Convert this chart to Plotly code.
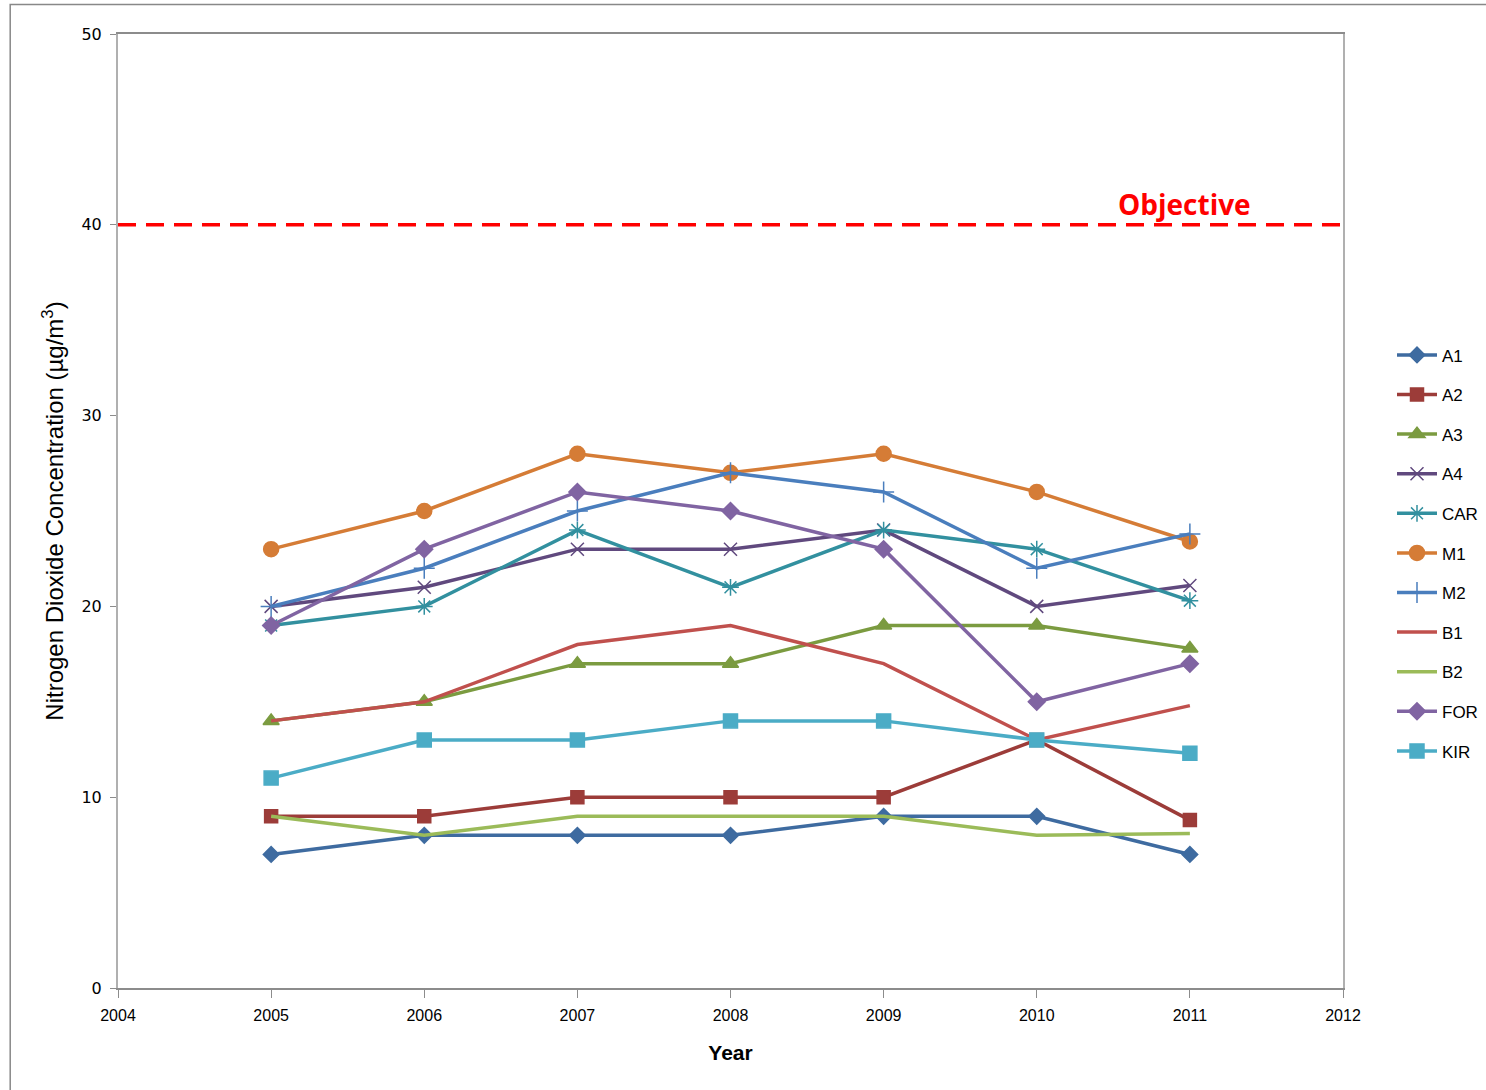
import plotly.graph_objects as go

years = [2005, 2006, 2007, 2008, 2009, 2010, 2011]
A1 = [7, 8, 8, 8, 9, 9, 7]
A2 = [9, 9, 10, 10, 10, 13, 8.8]
A3 = [14, 15, 17, 17, 19, 19, 17.8]
A4 = [20, 21, 23, 23, 24, 20, 21.1]
CAR = [19, 20, 24, 21, 24, 23, 20.3]
M1 = [23, 25, 28, 27, 28, 26, 23.4]
M2 = [20, 22, 25, 27, 26, 22, 23.8]
B1 = [14, 15, 18, 19, 17, 13, 14.8]
B2 = [9, 8, 9, 9, 9, 8, 8.1]
FOR = [19, 23, 26, 25, 23, 15, 17]
KIR = [11, 13, 13, 14, 14, 13, 12.3]
objective = 40
x_ticks = [2004, 2005, 2006, 2007, 2008, 2009, 2010, 2011, 2012]
y_ticks = [0, 10, 20, 30, 40, 50]

series = [
    ("A1", A1, "#3E6BA0", "diamond", 12),
    ("A2", A2, "#9C3C39", "square", 13),
    ("A3", A3, "#7B9B40", "triangle-up", 14),
    ("A4", A4, "#60497E", "x-thin", 13),
    ("CAR", CAR, "#32909F", "asterisk", 14),
    ("M1", M1, "#D57C36", "circle", 15),
    ("M2", M2, "#4A7EBD", "cross-thin", 15),
    ("B1", B1, "#C0504D", None, 0),
    ("B2", B2, "#9BBB59", None, 0),
    ("FOR", FOR, "#8064A2", "diamond", 13),
    ("KIR", KIR, "#4BACC6", "square", 14),
]

fig = go.Figure()
for name, vals, color, sym, size in series:
    if sym is None:
        fig.add_trace(go.Scatter(x=years, y=vals, name=name, mode="lines",
                                 line=dict(color=color, width=3.5), legendgroup=name))
    else:
        fig.add_trace(go.Scatter(x=years, y=vals, name=name, mode="lines+markers",
                                 line=dict(color=color, width=3.5),
                                 marker=dict(symbol=sym, size=size, color=color,
                                             line=dict(color=color, width=1.5)),
                                 legendgroup=name))

fig.add_shape(type="line", xref="paper", yref="y", x0=0, x1=1, y0=objective, y1=objective,
              line=dict(color="#FF0000", width=3.5, dash="18px,10px"))
fig.add_annotation(x=0.871, xref="paper", xanchor="center", y=objective, yref="y",
                   text="<b>Objective</b>", showarrow=False, yanchor="bottom", yshift=0,
                   font=dict(color="#FF0000", size=28, family="Open Sans"))

# outer chart frame
fig.add_shape(type="rect", xref="paper", yref="paper", x0=-0.088, x1=1.2, y0=-0.2, y1=1.031,
              line=dict(color="#888888", width=1.5), fillcolor="rgba(0,0,0,0)", layer="below")

fig.update_layout(
    width=1486, height=1090,
    margin=dict(l=118, r=143, t=34, b=102, autoexpand=False),
    paper_bgcolor="white", plot_bgcolor="white",
    font=dict(family="Liberation Sans", color="black"),
    showlegend=True,
    legend=dict(x=1.04, y=0.682, xanchor="left", yanchor="top",
                font=dict(size=17, family="Liberation Sans"),
                tracegroupgap=14.5, traceorder="grouped", itemwidth=40,
                bgcolor="rgba(0,0,0,0)"),
    xaxis=dict(range=[2004, 2012], tickvals=x_ticks, ticktext=[str(t) for t in x_ticks],
               showgrid=False, zeroline=False, showline=True, linecolor="#8C8C8C", linewidth=1.5,
               mirror=True, ticks="outside", ticklen=8, tickcolor="#8C8C8C",
               ticklabelstandoff=4,
               tickfont=dict(size=16, family="Liberation Sans"),
               title=dict(text="<b>Year</b>", font=dict(size=21, family="Liberation Sans"), standoff=22)),
    yaxis=dict(range=[0, 50], tickvals=y_ticks, showgrid=False, zeroline=False,
               showline=True, linecolor="#B0B0B0", linewidth=2, mirror=True,
               ticks="outside", ticklen=6, tickcolor="#8C8C8C",
               ticklabelstandoff=5,
               tickfont=dict(size=16, family="DejaVu Sans"),
               title=dict(text="Nitrogen Dioxide Concentration (µg/m<sup>3</sup>)",
                          font=dict(size=24, family="Liberation Sans"), standoff=11)),
)

fig.write_html("out.html")
